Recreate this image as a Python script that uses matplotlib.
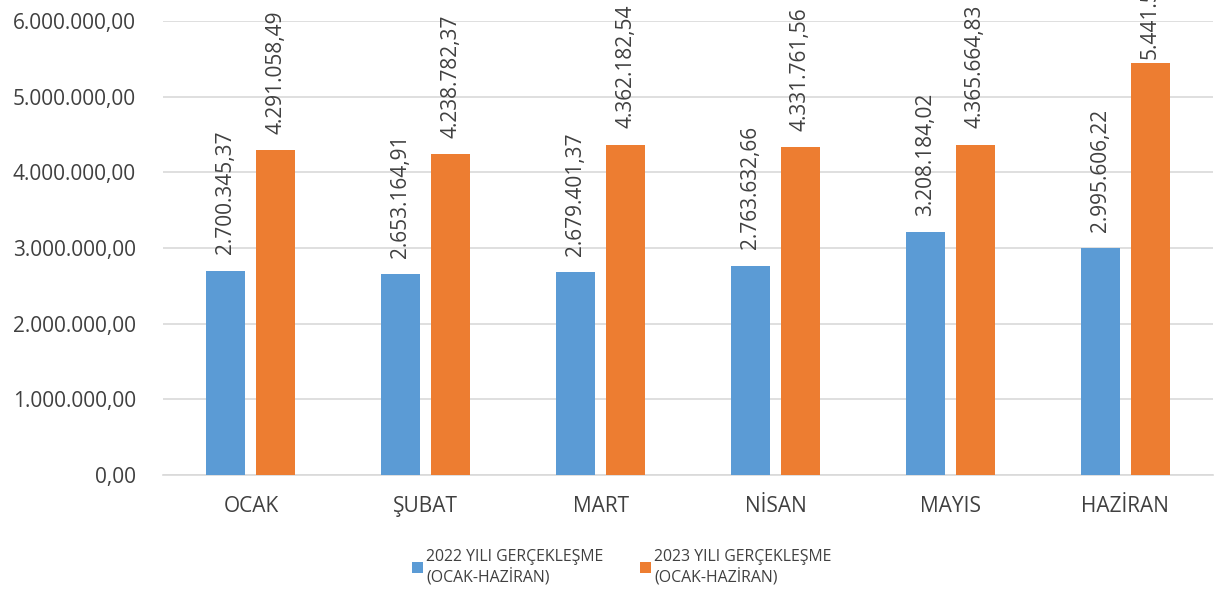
import matplotlib.pyplot as plt
import numpy as np

months = ['OCAK', 'ŞUBAT', 'MART', 'NİSAN', 'MAYIS', 'HAZİRAN']
values_2022 = [2700345.37, 2653164.91, 2679401.37, 2763632.66, 3208184.02, 2995606.22]
values_2023 = [4291058.49, 4238782.37, 4362182.54, 4331761.56, 4365664.83, 5441500.00]
series_names = ['2022 YILI GERÇEKLEŞME\n(OCAK-HAZİRAN)', '2023 YILI GERÇEKLEŞME\n(OCAK-HAZİRAN)']
y_ticks = [0, 1000000, 2000000, 3000000, 4000000, 5000000, 6000000]


def tr_fmt(v):
    s = f'{v:,.2f}'
    return s.replace(',', 'X').replace('.', ',').replace('X', '.')


plt.rcParams['font.family'] = ['Open Sans', 'DejaVu Sans']
text_color = '#404040'

fig = plt.figure(figsize=(12.19, 5.92), dpi=100)
ax = fig.add_axes([163.5 / 1219, 1 - 475 / 592, 1049 / 1219, 454 / 592])

x = np.arange(len(months))
w = 0.223
off = 0.143
b1 = ax.bar(x - off, values_2022, w, color='#5b9bd5', label=series_names[0], zorder=3)
b2 = ax.bar(x + off, values_2023, w, color='#ed7d31', label=series_names[1], zorder=3)

for bars, vals in ((b1, values_2022), (b2, values_2023)):
    for rect, v in zip(bars, vals):
        # the tallest label is pushed down a little (it does not fit above)
        gap = 3 if v > 5000000 else 12
        ax.annotate(tr_fmt(v), (rect.get_x() + rect.get_width() / 2, v),
                    xytext=(0, gap), textcoords='offset points', rotation=90,
                    ha='center', va='bottom', fontsize=15, color=text_color,
                    annotation_clip=False, clip_on=False)

ax.set_xlim(-0.5, len(months) - 0.5)
ax.set_ylim(0, 6000000)
ax.set_yticks(y_ticks)
ax.set_yticklabels([tr_fmt(v) for v in y_ticks])
ax.set_xticks(x)
ax.set_xticklabels(months)
ax.tick_params(axis='both', length=0, labelsize=15, colors=text_color)
ax.tick_params(axis='y', pad=20)
ax.tick_params(axis='x', pad=15)
ax.yaxis.grid(True, color='#d9d9d9', linewidth=1.2, zorder=0)
for s in ['top', 'right', 'left']:
    ax.spines[s].set_visible(False)
ax.spines['bottom'].set_color('#d9d9d9')
ax.spines['bottom'].set_linewidth(1.2)

leg = fig.legend(loc='center', bbox_to_anchor=(622 / 1219, 1 - 567 / 592), ncol=2,
                 frameon=False, fontsize=11.4, handlelength=0.7, handleheight=0.7,
                 handletextpad=0.2, columnspacing=2.3, labelcolor=text_color)

fig.savefig('out.png', dpi=100)
